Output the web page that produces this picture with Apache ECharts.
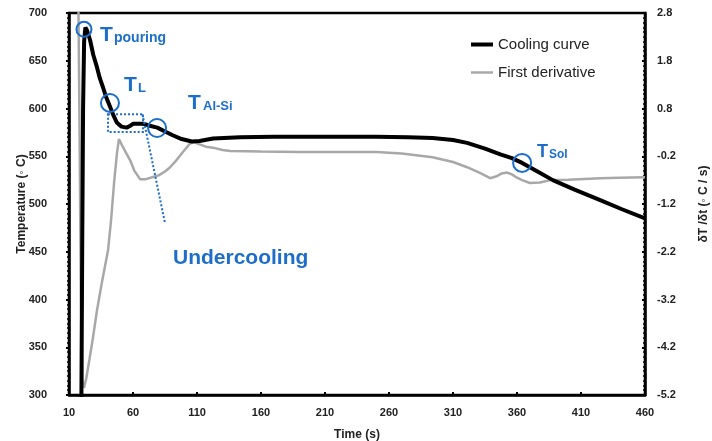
<!DOCTYPE html>
<html>
<head>
<meta charset="utf-8">
<script src="https://cdn.jsdelivr.net/npm/echarts@6/dist/echarts.min.js"></script>
<style>
  html, body { margin: 0; padding: 0; background: #fff; }
  #chart { width: 712px; height: 441px; }
</style>
</head>
<body>
<div id="chart"></div>
<script>
/* cooling curve: time (s) / temperature (°C) */
var coolTime = [19.5, 20.3, 21, 21.8, 22.8, 24, 26.4, 29, 31.9, 34, 36.6, 39, 42, 45, 47.5, 51, 55, 58, 60, 64, 68, 73, 79, 85, 91, 98, 106, 112, 122.5, 143.6, 170, 210, 250, 275, 294, 310, 321, 335, 347, 356, 364, 376, 388, 405, 425, 442, 460];
var coolTemp = [250, 450, 600, 670, 685, 682, 672, 656, 643, 632, 622, 612, 602, 592, 585, 581, 580, 582, 584, 584, 584, 582, 580, 576, 572, 568, 565.5, 566, 568.5, 570, 570.5, 570.5, 570.5, 570, 569, 567, 564, 558, 552, 548, 543, 534, 525, 515, 504, 494.5, 485];

/* first derivative: time (s) / dT/dt (°C/s) */
var derivTime = [17, 18.2, 19.2, 20.5, 21.7, 23.5, 26, 28.7, 31.9, 36, 40.5, 43, 45.2, 47.5, 49, 52, 55, 57.7, 61, 65.5, 70, 75, 80, 85, 89, 94, 99, 104, 107, 112, 117, 122.5, 130, 136, 160, 190, 220, 250, 270, 294, 310, 321, 331, 339, 344, 348, 352, 356, 360, 364, 370, 378, 386, 400, 425, 440, 460];
var derivRate = [4.0, 0.5, -3.0, -4.9, -5.05, -4.85, -4.45, -4.0, -3.42, -2.8, -2.17, -1.5, -0.76, -0.13, 0.16, 0.0, -0.15, -0.28, -0.5, -0.68, -0.68, -0.64, -0.6, -0.52, -0.43, -0.28, -0.11, 0.05, 0.1, 0.05, 0.0, -0.02, -0.07, -0.09, -0.1, -0.11, -0.11, -0.11, -0.14, -0.22, -0.32, -0.43, -0.55, -0.66, -0.62, -0.56, -0.54, -0.58, -0.65, -0.7, -0.76, -0.75, -0.7, -0.69, -0.66, -0.65, -0.64];

/* characteristic points on the cooling curve [t, T] */
var pointNames = ['Tpouring', 'TL', 'TAl-Si', 'TSol'];
var pointCoords = [[21.7, 683], [42, 605.8], [78.8, 579.6], [364, 543]];

var blue = '#1c6ec9';
var tickFont = { color: '#222', fontSize: 11, fontWeight: 'bold', fontFamily: 'Liberation Sans' };

function pairs(xs, ys) {
    var out = [];
    for (var i = 0; i < xs.length; i++) {
        out.push([xs[i], ys[i]]);
    }
    return out;
}

function subLabel(x, y, big, small, bigSize, smallSize, smallDx, smallDy) {
    return [
        { type: 'text', left: x, top: y - bigSize * 0.6,
          style: { text: big, fill: blue, font: 'bold ' + bigSize + 'px "Liberation Sans"' } },
        { type: 'text', left: x + smallDx, top: y + smallDy - smallSize * 0.6,
          style: { text: small, fill: blue, font: 'bold ' + smallSize + 'px "Liberation Sans"' } }
    ];
}

var myChart = echarts.init(document.getElementById('chart'));

var graphics = []
    .concat(subLabel(100, 37, 'T', 'pouring', 21, 14, 14, 3))
    .concat(subLabel(124, 87, 'T', 'L', 21, 13, 14, 3))
    .concat(subLabel(188, 105, 'T', 'Al-Si', 21, 13, 15, 3))
    .concat(subLabel(537, 154, 'T', 'Sol', 18, 12, 12, 2));
graphics.push({
    type: 'text', left: 173, top: 248,
    style: { text: 'Undercooling', fill: blue, font: 'bold 21px "Liberation Sans"' }
});

var markPts = [];
for (var k = 0; k < pointCoords.length; k++) {
    markPts.push({ name: pointNames[k], coord: pointCoords[k], symbolSize: k === 0 ? 15 : 18 });
}

var option = {
    backgroundColor: '#fff',
    animation: false,
    grid: {
        left: 69, right: 67, top: 13, bottom: 46,
        outerBoundsMode: 'none', containLabel: false,
        show: true, borderColor: '#000', borderWidth: 2.5, backgroundColor: 'transparent'
    },
    legend: [
        {
            data: ['Cooling curve'], left: 471, top: 37, padding: 0,
            icon: 'rect', itemWidth: 22, itemHeight: 4,
            textStyle: { color: '#222', fontSize: 15, fontFamily: 'Liberation Sans' }
        },
        {
            data: ['First derivative'], left: 471, top: 65, padding: 0,
            icon: 'rect', itemWidth: 22, itemHeight: 2.5,
            textStyle: { color: '#222', fontSize: 15, fontFamily: 'Liberation Sans' }
        }
    ],
    xAxis: {
        type: 'value', min: 10, max: 460, interval: 50,
        name: 'Time (s)', nameLocation: 'middle', nameGap: 34,
        nameTextStyle: { color: '#222', fontSize: 12, fontWeight: 'bold', fontFamily: 'Liberation Sans' },
        axisLine: { show: true, onZero: false, lineStyle: { color: '#000', width: 2.5 } },
        axisTick: { show: true, inside: true, length: 3, lineStyle: { color: '#000', width: 2 } },
        axisLabel: Object.assign({ margin: 12 }, tickFont),
        splitLine: { show: false }
    },
    yAxis: [
        {
            type: 'value', min: 300, max: 700, interval: 50,
            name: 'Temperature (◦ C)', nameLocation: 'middle', nameGap: 41, nameRotate: 90,
            nameMoveOverlap: false,
            nameTextStyle: { color: '#222', fontSize: 12, fontWeight: 'bold', fontFamily: 'Liberation Sans' },
            axisLine: { show: true, onZero: false, lineStyle: { color: '#000', width: 2.5 } },
            axisTick: { show: true, length: 3, lineStyle: { color: '#000', width: 2 } },
            minorTick: { show: true, splitNumber: 10, length: 2, lineStyle: { color: '#000', width: 1.5 } },
            axisLabel: Object.assign({ margin: 22 }, tickFont),
            splitLine: { show: false }
        },
        {
            type: 'value', min: -5.2, max: 2.8, interval: 1, position: 'right',
            name: 'δT /δt (◦ C / s)', nameLocation: 'middle', nameGap: 53, nameRotate: 90,
            nameTextStyle: { color: '#222', fontSize: 12, fontWeight: 'bold', fontFamily: 'Liberation Sans' },
            axisLine: { show: true, onZero: false, lineStyle: { color: '#000', width: 2.5 } },
            axisTick: { show: true, inside: true, length: 3, lineStyle: { color: '#000', width: 2 } },
            minorTick: { show: true, splitNumber: 10, length: 2, lineStyle: { color: '#000', width: 1.5 } },
            axisLabel: Object.assign({ margin: 12, formatter: function (v) { return v.toFixed(1); } }, tickFont),
            splitLine: { show: false }
        }
    ],
    series: [
        {
            name: 'First derivative', type: 'line', yAxisIndex: 1,
            data: pairs(derivTime, derivRate),
            showSymbol: false, symbol: 'none', clip: true,
            lineStyle: { color: '#a8a8a8', width: 2.5 },
            itemStyle: { color: '#a8a8a8' },
            z: 2
        },
        {
            name: 'Cooling curve', type: 'line', yAxisIndex: 0,
            data: pairs(coolTime, coolTemp),
            showSymbol: false, symbol: 'none', clip: true,
            lineStyle: { color: '#000', width: 4 },
            itemStyle: { color: '#000' },
            z: 3,
            markPoint: {
                symbol: 'circle',
                itemStyle: { color: 'rgba(0,0,0,0)', borderColor: blue, borderWidth: 2 },
                label: { show: false },
                data: markPts
            },
            markArea: {
                silent: true,
                itemStyle: { color: 'rgba(0,0,0,0)', borderColor: blue, borderWidth: 2, borderType: [2, 2] },
                data: [[{ coord: [40.5, 594] }, { coord: [67.8, 575.4] }]]
            },
            markLine: {
                silent: true, symbol: 'none',
                label: { show: false },
                lineStyle: { color: blue, width: 2, type: [2, 2] },
                data: [[{ coord: [67.4, 594] }, { coord: [85, 480] }]]
            }
        }
    ],
    graphic: graphics
};
myChart.setOption(option);
</script>
</body>
</html>
